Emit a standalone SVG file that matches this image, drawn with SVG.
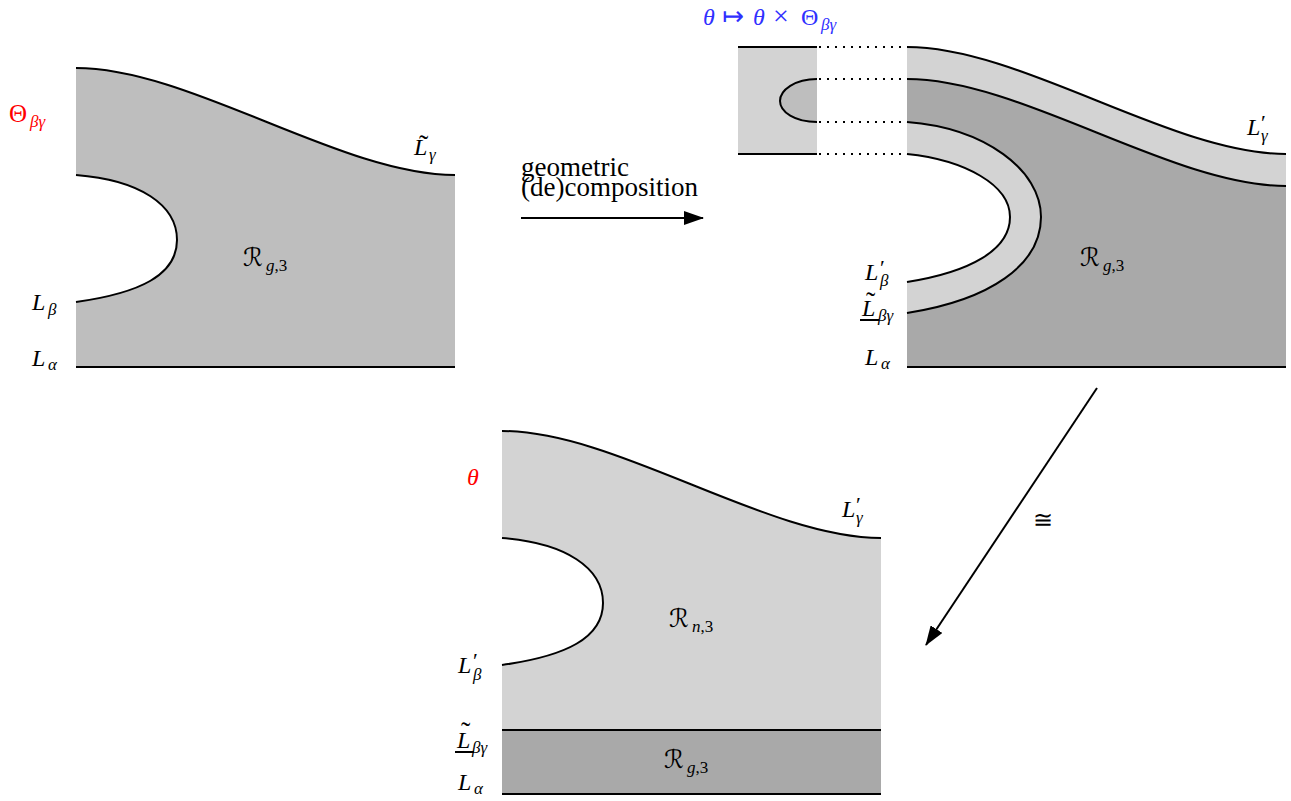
<svg xmlns="http://www.w3.org/2000/svg" width="1291" height="801" viewBox="0 0 1291 801">
<style>
text{font-family:'Liberation Serif','Times New Roman','DejaVu Serif',serif;fill:#000}
.i{font-style:italic}
.m{font-size:24px}
.s{font-size:17px}
.p{font-size:22px}
.tl{font-size:28px}
.r{font-family:'DejaVu Serif','DejaVu Sans',serif;font-size:25px}
.ln{fill:none;stroke:#000;stroke-width:2}
.dot{fill:none;stroke:#000;stroke-width:2;stroke-dasharray:2 6}
.g1{fill:#bebebe}
.g2{fill:#d3d3d3}
.g3{fill:#a9a9a9}
.red{fill:#ff0000}
.blue{fill:#3030ff}
</style>
<defs>
<marker id="ah" viewBox="0 0 20 14" refX="19" refY="7" markerWidth="20" markerHeight="14" markerUnits="userSpaceOnUse" orient="auto">
<path d="M0,0 L20,7 L0,14 Z" fill="#000"/>
</marker>
</defs>

<g id="left-figure">
<path class="g1" d="M76,68 C190,68 341,175 455,175 L455,367 L76,367 L76,302 C140,293 177,275 177,240 C177,205 140,180 76,175 Z"/>
<path class="ln" d="M76,68 C190,68 341,175 455,175"/>
<path class="ln" d="M76,175 C140,180 177,205 177,240 C177,275 140,293 76,302"/>
<path class="ln" d="M76,367 H455"/>
<text class="red" x="9" y="122" font-size="25">Θ</text>
<text class="i s red" x="30" y="127">βγ</text>
<text class="i m" x="414" y="155">L</text>
<text class="tl" x="419" y="154">˜</text>
<text class="i s" x="429" y="160">γ</text>
<text class="r" x="243" y="266">ℛ</text>
<text class="s" x="266" y="271"><tspan class="i">g</tspan>,3</text>
<text class="i m" x="32" y="310">L</text>
<text class="i s" x="48" y="315">β</text>
<text class="i m" x="32" y="366">L</text>
<text class="i s" x="48" y="370">α</text>
</g>

<g id="right-figure">
<path class="g2" d="M738,47 H817 V154 H738 Z"/>
<path class="g1" d="M817,79 C795,79 780,90 780,101 C780,112 795,122 817,122 Z"/>
<path class="ln" d="M817,79 C795,79 780,90 780,101 C780,112 795,122 817,122"/>
<path class="ln" d="M738,47 H817 M738,154 H817"/>
<path class="dot" d="M819,47 H907 M819,79 H907 M819,122 H907 M819,154 H907"/>
<path class="g2" d="M907,47 C1021,47 1172,154 1286,154 L1286,186 C1172,186 1021,79 907,79 Z"/>
<path class="g3" d="M907,79 C1021,79 1172,186 1286,186 L1286,367 L907,367 L907,313 C990,300 1041,265 1041,217 C1041,170 985,128 907,122 Z"/>
<path class="g2" d="M907,122 C985,128 1041,170 1041,217 C1041,265 990,300 907,313 Z"/>
<path fill="#fff" d="M907,154 C965,160 1010,185 1010,217 C1010,250 970,272 907,282 Z"/>
<path class="ln" d="M907,47 C1021,47 1172,154 1286,154"/>
<path class="ln" d="M907,79 C1021,79 1172,186 1286,186"/>
<path class="ln" d="M907,122 C985,128 1041,170 1041,217 C1041,265 990,300 907,313"/>
<path class="ln" d="M907,154 C965,160 1010,185 1010,217 C1010,250 970,272 907,282"/>
<path class="ln" d="M907,367 H1286"/>
<text class="blue" y="25" font-size="24"><tspan class="i" x="703">θ</tspan><tspan x="722" font-size="26" font-family="DejaVu Sans">↦</tspan><tspan class="i" x="753">θ</tspan><tspan x="773" font-size="28">×</tspan><tspan x="801">Θ</tspan></text>
<text class="i s blue" x="821" y="30">βγ</text>
<text class="i m" x="1247" y="135">L</text>
<text class="p" x="1261" y="130">′</text>
<text class="i s" x="1261" y="141">γ</text>
<text class="r" x="1080" y="266">ℛ</text>
<text class="s" x="1103" y="271"><tspan class="i">g</tspan>,3</text>
<text class="i m" x="865" y="280">L</text>
<text class="p" x="880" y="275">′</text>
<text class="i s" x="880" y="286">β</text>
<text class="i m" x="862" y="316">L</text>
<text class="tl" x="866" y="311">˜</text>
<path class="ln" d="M860,320 H879" stroke-width="1.3"/>
<text class="i s" x="878" y="321">βγ</text>
<text class="i m" x="865" y="365">L</text>
<text class="i s" x="881" y="369">α</text>
</g>

<g id="bottom-figure">
<path class="g2" d="M502,431 C616,431 767,538 881,538 L881,730 L502,730 L502,665 C566,656 603,638 603,603 C603,568 566,543 502,538 Z"/>
<path class="g3" d="M502,730 H881 V794 H502 Z"/>
<path class="ln" d="M502,431 C616,431 767,538 881,538"/>
<path class="ln" d="M502,538 C566,543 603,568 603,603 C603,638 566,656 502,665"/>
<path class="ln" d="M502,730 H881 M502,794 H881"/>
<text class="i m red" x="467" y="485">θ</text>
<text class="i m" x="842" y="517">L</text>
<text class="p" x="856" y="512">′</text>
<text class="i s" x="856" y="523">γ</text>
<text class="r" x="669" y="627">ℛ</text>
<text class="s" x="692" y="632"><tspan class="i">n</tspan>,3</text>
<text class="i m" x="458" y="673">L</text>
<text class="p" x="473" y="668">′</text>
<text class="i s" x="473" y="680">β</text>
<text class="i m" x="457" y="748">L</text>
<text class="tl" x="461" y="741">˜</text>
<path class="ln" d="M455,752 H474" stroke-width="1.3"/>
<text class="i s" x="472" y="753">βγ</text>
<text class="r" x="664" y="768">ℛ</text>
<text class="s" x="687" y="773"><tspan class="i">g</tspan>,3</text>
<text class="i m" x="458" y="790">L</text>
<text class="i s" x="474" y="794">α</text>
</g>

<g id="connectors">
<path class="ln" d="M521,218 H703" marker-end="url(#ah)"/>
<path class="ln" d="M1097,388 L926,645" marker-end="url(#ah)"/>
</g>
<g id="labels">
<text x="521" y="176" font-size="27">geometric</text>
<text x="521" y="196" font-size="27">(de)composition</text>
<text x="1033" y="528" font-size="24">≅</text>
</g>
</svg>
